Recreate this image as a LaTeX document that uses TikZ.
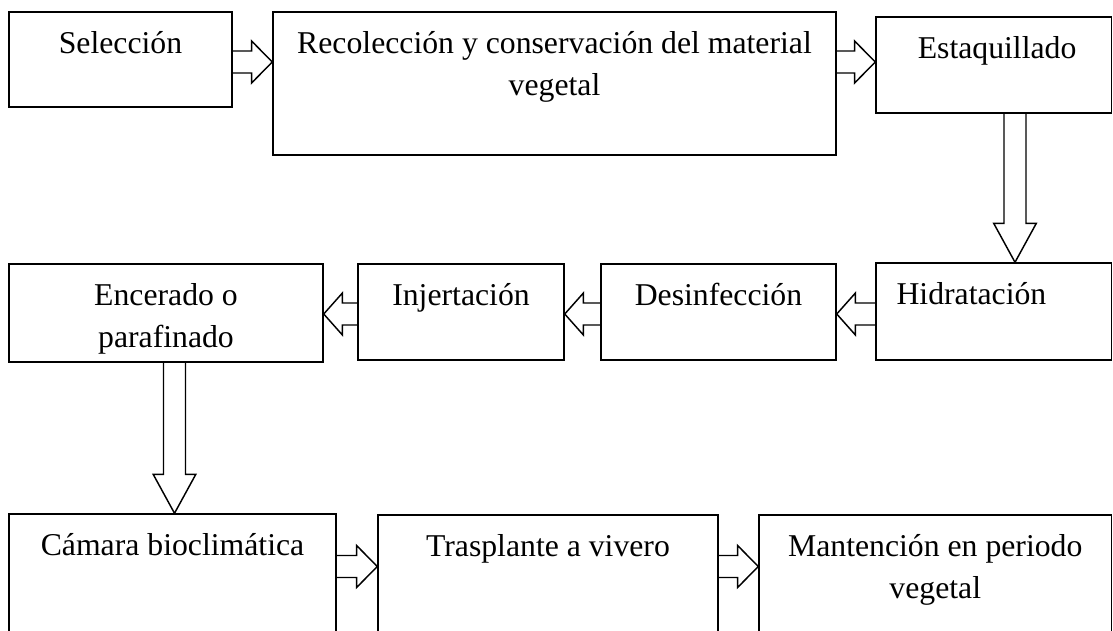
\documentclass[tikz,border=0pt]{standalone}
\usepackage{fontspec}
\setmainfont{Liberation Serif}
\usetikzlibrary{calc,fit}
\tikzset{
  px/.style={x=0.75pt,y=-0.75pt},
  box/.style={draw, line width=1.1pt, inner sep=0pt},
  lbl/.style={inner sep=0pt, align=center, font=\fontsize{23.8pt}{31.5pt}\selectfont, yshift=-9.3pt},
  arrR/.style={line width=1.1pt, line join=miter, to path={let \p1=(\tikztostart), \p2=(\tikztotarget) in
    (\x1,\y2+8.25pt) -- (\x2-15.5pt,\y2+8.25pt) -- (\x2-15.5pt,\y2+15.75pt) -- (\x2,\y2)
    -- (\x2-15.5pt,\y2-15.75pt) -- (\x2-15.5pt,\y2-8.25pt) -- (\x1,\y2-8.25pt)}},
  arrL/.style={line width=1.1pt, line join=miter, to path={let \p1=(\tikztostart), \p2=(\tikztotarget) in
    (\x1,\y2+8.25pt) -- (\x2+14pt,\y2+8.25pt) -- (\x2+14pt,\y2+15.75pt) -- (\x2,\y2)
    -- (\x2+14pt,\y2-15.75pt) -- (\x2+14pt,\y2-8.25pt) -- (\x1,\y2-8.25pt)}},
  arrD/.style={line width=1.1pt, line join=miter, to path={let \p1=(\tikztostart), \p2=(\tikztotarget) in
    (\x2-8.25pt,\y1) -- (\x2-8.25pt,\y2+29.25pt) -- (\x2-16pt,\y2+29.25pt) -- (\x2,\y2)
    -- (\x2+16pt,\y2+29.25pt) -- (\x2+8.25pt,\y2+29.25pt) -- (\x2+8.25pt,\y1)}},
}
\begin{document}
\begin{tikzpicture}[px]
\clip (0,0) rectangle (1113,631);
% boxes
\node[box, fit={(9,12) (232,107)}] (sel) {};
\node[box, fit={(273,12) (836,155)}] (rec) {};
\node[box, fit={(876,17) (1111.5,113)}] (est) {};
\node[box, fit={(876,263) (1111.5,360)}] (hid) {};
\node[box, fit={(601,264) (836,360)}] (des) {};
\node[box, fit={(358,264) (564,360)}] (inj) {};
\node[box, fit={(9,264) (323,362)}] (enc) {};
\node[box, fit={(9,514) (336,660)}] (cam) {};
\node[box, fit={(378,515) (718,660)}] (tra) {};
\node[box, fit={(759,515) (1111.5,660)}] (man) {};
% labels
\node[lbl, anchor=north] (selT) at (sel.north) {\strut Selección};
\node[lbl, anchor=north] (recT) at (rec.north) {\strut Recolección y conservación del material\\\strut vegetal};
\node[lbl, anchor=north] (estT) at ([xshift=2.5pt]est.north) {\strut Estaquillado};
\node[lbl, anchor=north west, xshift=15.75pt] (hidT) at (hid.north west) {\strut Hidratación};
\node[lbl, anchor=north] (desT) at (des.north) {\strut Desinfección};
\node[lbl, anchor=north] (injT) at (inj.north) {\strut Injertación};
\node[lbl, anchor=north] (encT) at (enc.north) {\strut Encerado o\\\strut parafinado};
\node[lbl, anchor=north] (camT) at (cam.north) {\strut Cámara bioclimática};
\node[lbl, anchor=north] (traT) at (tra.north) {\strut Trasplante a vivero};
\node[lbl, anchor=north] (manT) at (man.north) {\strut Mantención en periodo\\\strut vegetal};
% connectors
\draw[arrR] (sel.east |- 0,62) to (rec.west |- 0,62);
\draw[arrR] (rec.east |- 0,62) to (est.west |- 0,62);
\draw[arrD] (est.south -| 1015,0) to (hid.north -| 1015,0);
\draw[arrL] (hid.west |- 0,314) to (des.east |- 0,314);
\draw[arrL] (des.west |- 0,314) to (inj.east |- 0,314);
\draw[arrL] (inj.west |- 0,314) to (enc.east |- 0,314);
\draw[arrD] (enc.south -| 174.5,0) to (cam.north -| 174.5,0);
\draw[arrR] (cam.east |- 0,566.5) to (tra.west |- 0,566.5);
\draw[arrR] (tra.east |- 0,566.5) to (man.west |- 0,566.5);
\end{tikzpicture}
\end{document}
